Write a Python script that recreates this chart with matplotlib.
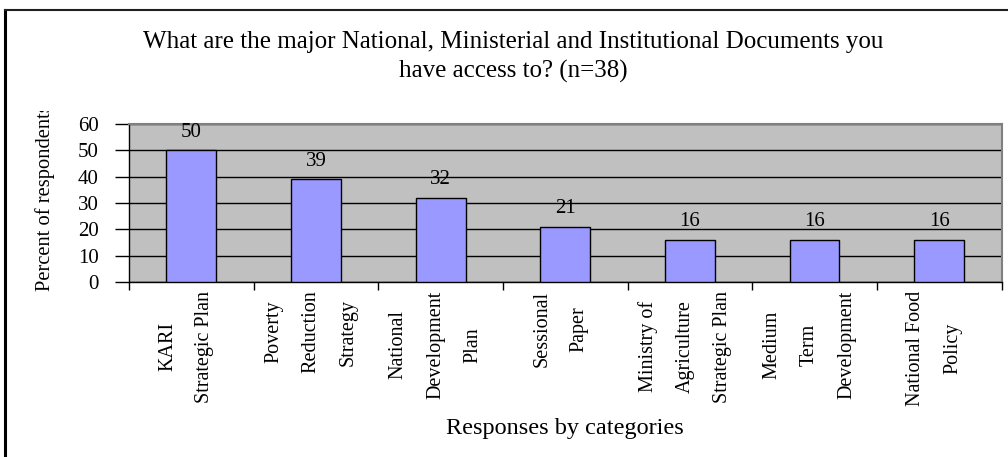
import matplotlib
matplotlib.use("Agg")
import matplotlib.pyplot as plt
from matplotlib.lines import Line2D
from matplotlib.transforms import Bbox

# survey responses, percent of respondents (n=38)
categories = [
    "KARI\nStrategic Plan",
    "Poverty\nReduction\nStrategy",
    "National\nDevelopment\nPlan",
    "Sessional\nPaper",
    "Ministry of\nAgriculture\nStrategic Plan",
    "Medium\nTerm\nDevelopment",
    "National Food\nPolicy",
]
percents = [50, 39, 32, 21, 16, 16, 16]
yticks = [0, 10, 20, 30, 40, 50, 60]

plt.rcParams["font.family"] = ["Liberation Serif", "DejaVu Serif"]

W, H = 1008, 457
fig = plt.figure(figsize=(W / 100, H / 100), dpi=100)
fig.patch.set_facecolor("white")

# chart frame (top and left edges)
fig.add_artist(Line2D([5 / W, 5 / W], [0, 1 - 10 / H], transform=fig.transFigure,
                      color="black", lw=2.2))
fig.add_artist(Line2D([5 / W, 1], [1 - 10 / H, 1 - 10 / H], transform=fig.transFigure,
                      color="#202020", lw=1.5))

ax = fig.add_axes([129 / W, 1 - 282 / H, (1001.5 - 129) / W, (282 - 124) / H])
ax.set_facecolor("#C0C0C0")

x = list(range(len(categories)))
ax.bar(x, percents, width=0.4, color="#9999FF", edgecolor="black", linewidth=1.0, zorder=3)
for xi, v in zip(x, percents):
    ax.text(xi, v + 3.2, str(v), ha="center", va="bottom", fontsize=15, zorder=4)

ax.set_xlim(-0.5, len(categories) - 0.5)
ax.set_ylim(0, 60)
ax.set_yticks(yticks)
ax.yaxis.grid(True, color="black", lw=1.0)
ax.set_axisbelow(True)

for s in ("top", "right"):
    ax.spines[s].set_color("#808080")
    ax.spines[s].set_linewidth(1.5)
for s in ("left", "bottom"):
    ax.spines[s].set_color("black")
    ax.spines[s].set_linewidth(1.0)

ax.tick_params(axis="y", labelsize=15, length=10, width=1.0, pad=12)
ax.set_xticks([i - 0.5 for i in range(len(categories) + 1)])
ax.set_xticklabels([])
ax.tick_params(axis="x", length=6, width=1.0)

# category names, rotated with each line in its own column
for xi, name in zip(x, categories):
    ax.text(xi - 0.04, -0.055, name, transform=ax.get_xaxis_transform(), rotation=90,
            ha="center", va="top", multialignment="center", fontsize=14.5,
            linespacing=2.3)

ax.text(0.5, -0.93, "Responses by categories", transform=ax.transAxes,
        ha="center", va="center", fontsize=17.5)

fig.text(513 / W, 1 - 42 / H,
         "What are the major National, Ministerial and Institutional Documents you",
         ha="center", va="center", fontsize=18)
fig.text(513 / W, 1 - 71 / H, "have access to? (n=38)",
         ha="center", va="center", fontsize=18)

ylab = fig.text(45 / W, 1 - 291 / H, "Percent of respondents", rotation=90,
                ha="center", va="bottom", fontsize=14.8)
ylab.set_clip_on(True)
ylab.set_clip_box(Bbox.from_extents(0, 0, W, H - 111))

fig.savefig("out.png", dpi=100)
